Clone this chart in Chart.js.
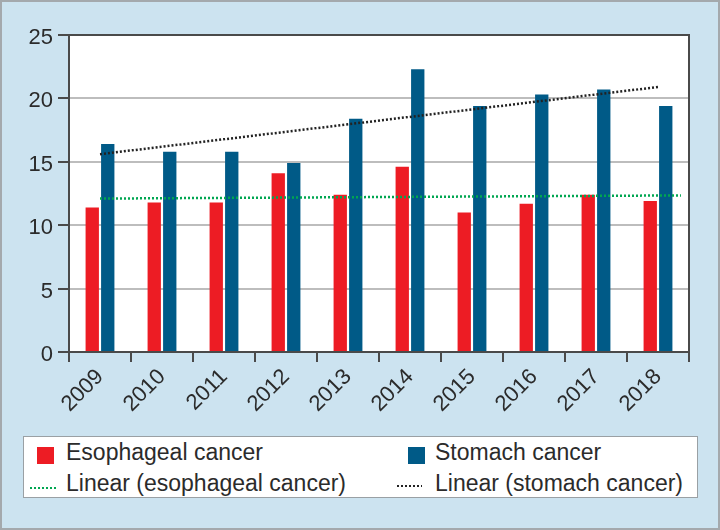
<!DOCTYPE html>
<html>
<head>
<meta charset="utf-8">
<script src="https://cdn.jsdelivr.net/npm/chart.js@4/dist/chart.umd.min.js"></script>
<style>
html,body{margin:0;padding:0;background:#ffffff;}
#wrap{position:relative;width:720px;height:530px;background:#cce3f0;overflow:hidden;font-family:"Liberation Sans",Arial,sans-serif;}
canvas{position:absolute;left:0;top:0;}
#frame{position:absolute;left:0;top:0;width:720px;height:530px;box-sizing:border-box;border:2px solid #a4a9ad;pointer-events:none;}
#legend{position:absolute;left:23px;top:436px;width:675px;height:62px;box-sizing:border-box;background:#fff;border:1.5px solid #9aa0a4;}
.lg-txt{position:absolute;font-size:23px;line-height:23px;color:#2b2b2b;white-space:nowrap;}
.lg-sq{position:absolute;width:17px;height:17px;}
.lg-ln{position:absolute;height:2px;}
</style>
</head>
<body>
<div id="wrap">
  <canvas id="chart" width="720" height="530"></canvas>
  <canvas id="trend" width="720" height="530"></canvas>
  <div id="legend"></div>
  <div id="frame"></div>
</div>
<script>
// ---- data ----
const years = ['2009','2010','2011','2012','2013','2014','2015','2016','2017','2018'];
const esophageal = [11.4, 11.8, 11.8, 14.1, 12.4, 14.6, 11.0, 11.7, 12.4, 11.9];
const stomach    = [16.4, 15.8, 15.8, 14.9, 18.4, 22.3, 19.4, 20.3, 20.7, 19.4];
// trend line end points (category index, value) as drawn
const trendEsoX = [0, 9.37];
const trendEsoY = [12.1, 12.35];
const trendStoX = [0, 9];
const trendStoY = [15.6, 20.9];
const yTicks = [0, 5, 10, 15, 20, 25];
const seriesNames = ['Esophageal cancer', 'Stomach cancer', 'Linear (esophageal cancer)', 'Linear (stomach cancer)'];

const RED = '#ed1c24', BLUE = '#005a87', GREEN = '#00a651', BLACK = '#222222';
const FONT = '"Liberation Sans", Arial, sans-serif';

const plotBg = {
  id: 'plotBg',
  beforeDraw(chart) {
    const {ctx, chartArea: a} = chart;
    ctx.save();
    ctx.fillStyle = '#ffffff';
    ctx.fillRect(a.left, a.top, a.right - a.left, a.bottom - a.top);
    ctx.restore();
  },
  afterDraw(chart) {
    const {ctx, chartArea: a} = chart;
    ctx.save();
    ctx.strokeStyle = '#4a4a4a';
    ctx.lineWidth = 2;
    ctx.strokeRect(a.left, a.top, a.right - a.left, a.bottom - a.top);
    ctx.restore();
  }
};

// main bar chart
new Chart(document.getElementById('chart'), {
  type: 'bar',
  data: {
    labels: years,
    datasets: [
      {label: seriesNames[0], data: esophageal, backgroundColor: RED, categoryPercentage: 0.5, barPercentage: 0.86},
      {label: seriesNames[1], data: stomach, backgroundColor: BLUE, categoryPercentage: 0.5, barPercentage: 0.86}
    ]
  },
  options: {
    responsive: false,
    animation: false,
    layout: {padding: {left: 0, top: 35, right: 31, bottom: 98}},
    plugins: {legend: {display: false}, tooltip: {enabled: false}},
    scales: {
      x: {
        type: 'category',
        offset: true,
        grid: {drawOnChartArea: false, drawTicks: true, tickLength: 10, tickColor: '#4a4a4a', lineWidth: 2, offset: true},
        border: {display: false},
        ticks: {minRotation: 45, maxRotation: 45, padding: 2, color: '#2b2b2b', font: {family: FONT, size: 22}},
        afterFit(scale) { scale.height = 80; }
      },
      y: {
        min: 0, max: 25,
        afterBuildTicks(scale) { scale.ticks = yTicks.map(v => ({value: v})); },
        grid: {color: '#bdbdbd', lineWidth: 2, tickLength: 11, tickColor: '#4a4a4a'},
        border: {display: false},
        ticks: {padding: 5, labelOffset: 3, color: '#2b2b2b', font: {family: FONT, size: 22}},
        afterFit(scale) { scale.width = 69; }
      }
    }
  },
  plugins: [plotBg]
});

// trend lines, overlaid on the same plot area
new Chart(document.getElementById('trend'), {
  type: 'line',
  data: {
    datasets: [
      {label: seriesNames[2], data: trendEsoX.map((x, i) => ({x: x, y: trendEsoY[i]})),
       borderColor: GREEN, borderWidth: 2.5, borderDash: [2, 2], pointRadius: 0, fill: false},
      {label: seriesNames[3], data: trendStoX.map((x, i) => ({x: x, y: trendStoY[i]})),
       borderColor: BLACK, borderWidth: 2.5, borderDash: [2, 2], pointRadius: 0, fill: false}
    ]
  },
  options: {
    responsive: false,
    animation: false,
    layout: {padding: {left: 69, top: 35, right: 31, bottom: 178}},
    plugins: {legend: {display: false}, tooltip: {enabled: false}},
    scales: {
      x: {type: 'linear', display: false, min: -0.5, max: 9.5},
      y: {type: 'linear', display: false, min: 0, max: 25}
    }
  }
});

// ---- HTML legend ----
const lg = document.getElementById('legend');
const items = [
  {kind: 'sq', color: RED,   sx: 13, sy: 10, tx: 42, ty: 4,  text: seriesNames[0]},
  {kind: 'sq', color: BLUE,  sx: 384, sy: 10, tx: 411, ty: 4, text: seriesNames[1]},
  {kind: 'ln', color: GREEN, sx: 6,  sy: 50, w: 27, tx: 42, ty: 35, text: seriesNames[2]},
  {kind: 'ln', color: BLACK, sx: 373, sy: 48, w: 25, tx: 411, ty: 35, text: seriesNames[3]}
];
items.forEach(it => {
  const m = document.createElement('div');
  if (it.kind === 'sq') {
    m.className = 'lg-sq';
    m.style.background = it.color;
  } else {
    m.className = 'lg-ln';
    m.style.width = it.w + 'px';
    m.style.background = 'repeating-linear-gradient(to right,' + it.color + ' 0 2px, transparent 2px 4px)';
  }
  m.style.left = it.sx + 'px';
  m.style.top = it.sy + 'px';
  lg.appendChild(m);
  const t = document.createElement('div');
  t.className = 'lg-txt';
  t.style.left = it.tx + 'px';
  t.style.top = it.ty + 'px';
  t.textContent = it.text;
  lg.appendChild(t);
});
</script>
</body>
</html>
